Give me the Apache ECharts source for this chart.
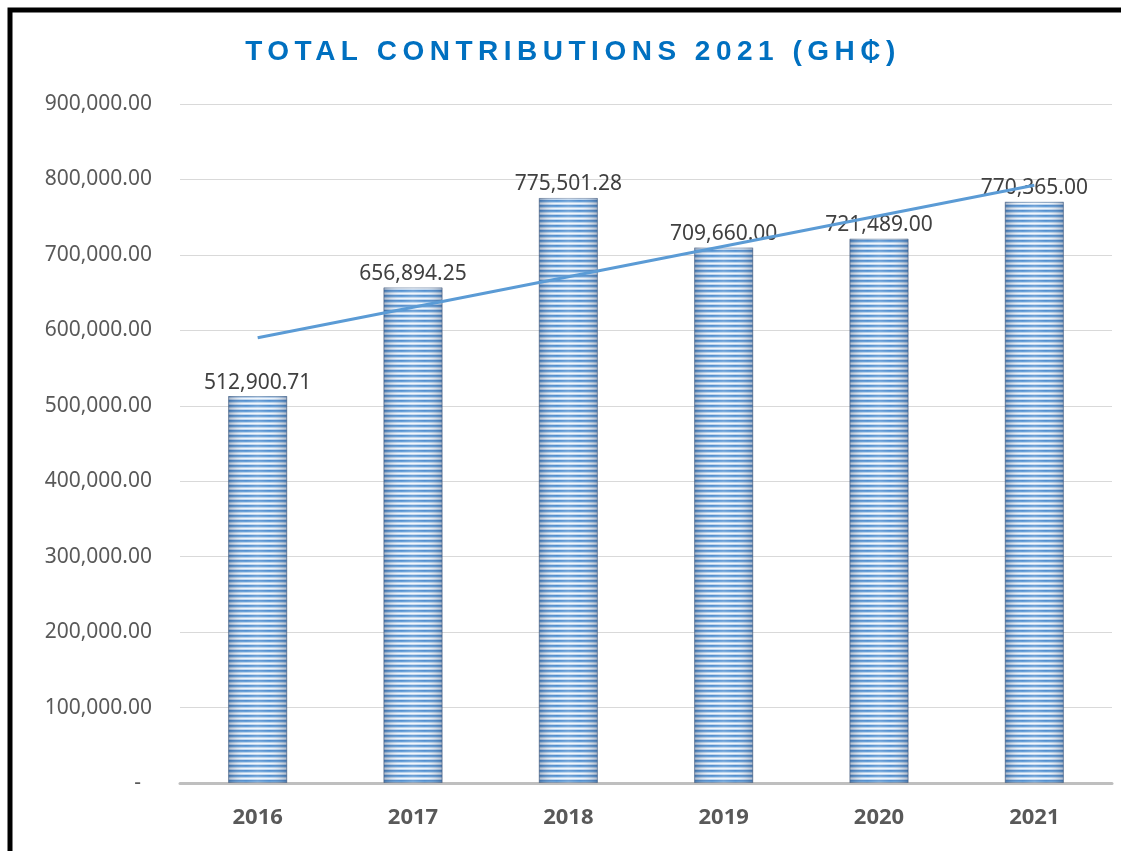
<!DOCTYPE html>
<html>
<head>
<meta charset="utf-8">
<script src="https://cdn.jsdelivr.net/npm/echarts@6/dist/echarts.min.js"></script>
<style>
  html, body { margin: 0; padding: 0; background: #fff; }
  #chart { width: 1121px; height: 851px; }
</style>
</head>
<body>
<div id="chart"></div>
<script>
// data
const years = ['2016', '2017', '2018', '2019', '2020', '2021']
const contributions = [512900.71, 656894.25, 775501.28, 709660.00, 721489.00, 770365.00]
const yTicks = { min: 0, max: 900000, interval: 100000 }

// linear trend line (least squares over the bars)
const n = contributions.length
const meanX = (n + 1) / 2
const meanY = contributions.reduce((a, b) => a + b, 0) / n
let sxy = 0, sxx = 0
contributions.forEach((v, i) => {
  sxy += (i + 1 - meanX) * (v - meanY)
  sxx += (i + 1 - meanX) * (i + 1 - meanX)
})
const slope = sxy / sxx
const trend = contributions.map((v, i) => meanY + slope * (i + 1 - meanX))

const fmt = (v) => v.toLocaleString('en-US', { minimumFractionDigits: 2, maximumFractionDigits: 2 })

// spaced-out title letters (only the title uses Liberation Sans)
const origFillText = CanvasRenderingContext2D.prototype.fillText
CanvasRenderingContext2D.prototype.fillText = function (t, x, y, m) {
  const spaced = this.font.indexOf('Liberation Sans') >= 0
  if (spaced) this.letterSpacing = '5.5px'
  const r = m === undefined ? origFillText.call(this, t, x, y) : origFillText.call(this, t, x, y, m)
  if (spaced) this.letterSpacing = '0px'
  return r
}

// striped fill for the bars
const stripe = document.createElement('canvas')
stripe.width = 5
stripe.height = 5
const sctx = stripe.getContext('2d')
const rows = ['#4A88CB', '#5E9BD6', '#B2CEEC', '#EDF4FB', '#B9D3EE']
rows.forEach((c, i) => {
  sctx.fillStyle = c
  sctx.fillRect(0, i, 5, 1)
})

const chart = echarts.init(document.getElementById('chart'))

chart.setOption({
  animation: false,
  backgroundColor: '#fff',
  title: {
    text: 'TOTAL CONTRIBUTIONS 2021 (GH₵)',
    left: 568,
    top: 33,
    textAlign: 'center',
    textStyle: {
      fontFamily: 'Liberation Sans',
      fontWeight: 'bold',
      fontSize: 28,
      color: '#0070C0'
    }
  },
  graphic: [{
    type: 'rect',
    shape: { x: 10, y: 10, width: 1200, height: 1000 },
    style: { fill: 'none', stroke: '#000', lineWidth: 5 },
    silent: true,
    z: 100
  }],
  grid: { left: 180, right: 9, top: 104, bottom: 68 },
  xAxis: {
    type: 'category',
    data: years,
    axisTick: { show: false },
    axisLine: { lineStyle: { color: '#BFBFBF', width: 3 } },
    axisLabel: {
      margin: 24,
      color: '#595959',
      fontFamily: 'Noto Sans',
      fontWeight: 'bold',
      fontSize: 22
    }
  },
  yAxis: {
    type: 'value',
    min: yTicks.min,
    max: yTicks.max,
    interval: yTicks.interval,
    axisLine: { show: false },
    axisTick: { show: false },
    splitLine: { lineStyle: { color: '#D9D9D9', width: 1 } },
    axisLabel: {
      margin: 28,
      color: '#595959',
      fontFamily: 'Noto Sans',
      fontSize: 21,
      formatter: (v) => v === 0 ? '-  ' : fmt(v)
    }
  },
  series: [
    {
      name: 'Contributions',
      type: 'bar',
      data: contributions,
      barWidth: 59,
      itemStyle: {
        color: { image: stripe, repeat: 'repeat' },
        borderColor: 'rgba(70,100,140,0.55)',
        borderWidth: 1
      },
      label: {
        show: true,
        position: 'top',
        distance: 3,
        color: '#404040',
        fontFamily: 'Noto Sans',
        fontSize: 21,
        formatter: (p) => fmt(p.value)
      },
      z: 2
    },
    {
      name: 'shade',
      type: 'bar',
      data: contributions,
      barWidth: 59,
      barGap: '-100%',
      silent: true,
      itemStyle: {
        color: {
          type: 'linear', x: 0, y: 0, x2: 1, y2: 0,
          colorStops: [
            { offset: 0, color: 'rgba(40,60,95,0.35)' },
            { offset: 0.3, color: 'rgba(255,255,255,0.05)' },
            { offset: 0.5, color: 'rgba(255,255,255,0.2)' },
            { offset: 0.7, color: 'rgba(255,255,255,0.05)' },
            { offset: 1, color: 'rgba(40,60,95,0.35)' }
          ]
        }
      },
      z: 2
    },
    {
      name: 'Trend',
      type: 'line',
      data: trend,
      symbol: 'none',
      lineStyle: { color: '#5B9BD5', width: 3 },
      z: 5
    }
  ]
})
</script>
</body>
</html>
